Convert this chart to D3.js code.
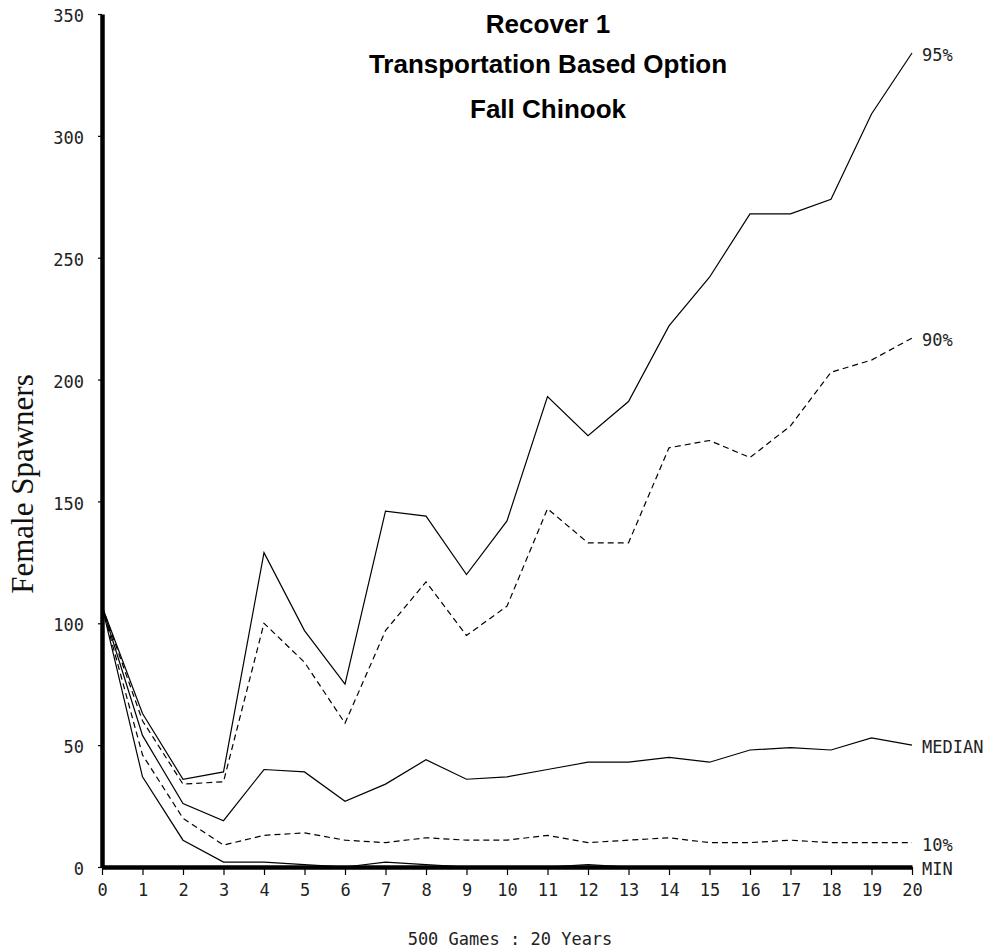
<!DOCTYPE html>
<html>
<head>
<meta charset="utf-8">
<script src="https://cdn.jsdelivr.net/npm/d3@7"></script>
<style>
  html, body { margin: 0; padding: 0; background: #fff; }
  svg { display: block; }
</style>
</head>
<body>
<script>
// Simulated female spawner counts, 500 games over 20 years
const years = [0,1,2,3,4,5,6,7,8,9,10,11,12,13,14,15,16,17,18,19,20];
const yTicks = [0,50,100,150,200,250,300,350];

const pct95  = [107,63,36,39,129,97,75,146,144,120,142,193,177,191,222,242,268,268,274,309,334];
const pct90  = [107,60,34,35,100,84,59,97,117,95,107,147,133,133,172,175,168,181,203,208,217];
const median = [107,54,26,19,40,39,27,34,44,36,37,40,43,43,45,43,48,49,48,53,50];
const pct10  = [107,46,20,9,13,14,11,10,12,11,11,13,10,11,12,10,10,11,10,10,10];
const minimum= [107,37,11,2,2,1,0,2,1,0,0,0,1,0,0,0,0,0,0,0,0];

const seriesNames = ["95%","90%","MEDIAN","10%","MIN"];
const seriesValues = [pct95, pct90, median, pct10, minimum];
const seriesDashed = [false, true, false, true, false];

const titleLines = ["Recover 1", "Transportation Based Option", "Fall Chinook"];
const xAxisTitle = "500 Games : 20 Years";
const yAxisTitle = "Female Spawners";

const W = 989, H = 950;
const svg = d3.select("body").append("svg").attr("width", W).attr("height", H);

const x = d3.scaleLinear().domain([0, 20]).range([102, 912]);
const y = d3.scaleLinear().domain([0, 350]).range([867, 14]);

const monoFont = "'DejaVu Sans Mono', monospace";

// Y axis
const yAxis = d3.axisLeft(y).tickValues(yTicks).tickSize(4).tickSizeOuter(0).tickPadding(14);
const gy = svg.append("g").attr("transform", `translate(${x(0)},0)`).call(yAxis);
gy.select(".domain").attr("stroke", "#000").attr("stroke-width", 4.5);
gy.selectAll(".tick line").attr("stroke", "#000").attr("stroke-width", 1.2);
gy.selectAll(".tick text")
  .attr("font-family", monoFont).attr("font-size", 17).attr("fill", "#222")
  .attr("dy", "0.45em");

// X axis
const xAxis = d3.axisBottom(x).tickValues(years).tickSize(8).tickSizeOuter(0).tickPadding(9);
const gx = svg.append("g").attr("transform", `translate(0,${y(0)})`).call(xAxis);
gx.select(".domain").attr("stroke", "#000").attr("stroke-width", 4.5);
gx.selectAll(".tick line").attr("stroke", "#000").attr("stroke-width", 1.2);
gx.selectAll(".tick text")
  .attr("font-family", monoFont).attr("font-size", 17).attr("fill", "#222");

// Series lines
const line = d3.line().x((d, i) => x(years[i])).y(d => y(d));
seriesValues.forEach((vals, k) => {
  svg.append("path")
    .datum(vals)
    .attr("d", line)
    .attr("fill", "none")
    .attr("stroke", "#000")
    .attr("stroke-width", 1.2)
    .attr("stroke-dasharray", seriesDashed[k] ? "6,4" : null);

  // End-of-line label
  svg.append("text")
    .attr("x", x(20) + 10)
    .attr("y", y(vals[vals.length - 1]) + 8)
    .attr("font-family", monoFont)
    .attr("font-size", 17)
    .attr("fill", "#222")
    .text(seriesNames[k]);
});

// Title
const titleBaselines = [33, 73, 118];
titleLines.forEach((t, i) => {
  svg.append("text")
    .attr("x", 548).attr("y", titleBaselines[i])
    .attr("text-anchor", "middle")
    .attr("font-family", "'Liberation Sans', Arial, sans-serif")
    .attr("font-weight", "bold")
    .attr("font-size", 26)
    .attr("fill", "#000")
    .text(t);
});

// Axis titles
svg.append("text")
  .attr("x", 510).attr("y", 945)
  .attr("text-anchor", "middle")
  .attr("font-family", monoFont).attr("font-size", 17).attr("fill", "#222")
  .attr("xml:space", "preserve")
  .text(xAxisTitle);

svg.append("text")
  .attr("transform", "translate(33,484) rotate(-90)")
  .attr("text-anchor", "middle")
  .attr("font-family", "'Liberation Serif', 'Times New Roman', serif")
  .attr("font-size", 31)
  .attr("fill", "#111")
  .text(yAxisTitle);
</script>
</body>
</html>
